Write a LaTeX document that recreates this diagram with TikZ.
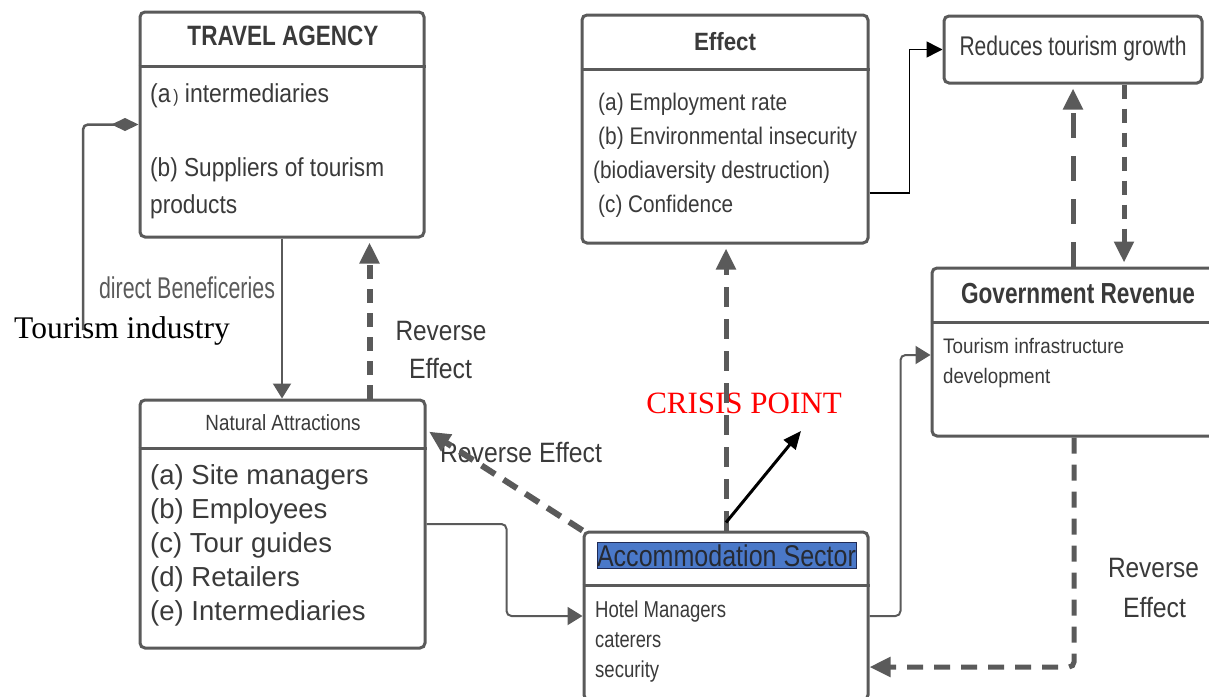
\documentclass[tikz,border=0pt]{standalone}
\usepackage{fontspec}
\setmainfont{Liberation Sans}
\newfontfamily\tnr{Liberation Serif}
\usepackage{graphicx}
\usetikzlibrary{arrows.meta}
\definecolor{lc}{HTML}{5A5A5A}
\definecolor{tc}{HTML}{3A3A3A}
\definecolor{hl}{HTML}{4A78C8}
\definecolor{hlb}{HTML}{1F2A55}
\definecolor{ast}{HTML}{262A33}
\newcommand{\fitw}[2]{\resizebox{#1}{\height}{#2}}
\newcommand{\fs}[1]{\fontsize{#1}{#1}\selectfont}
\begin{document}
\begin{tikzpicture}[x=1pt,y=-1pt,
  box/.style={draw=lc, line width=3pt, rounded corners=5pt, fill=white, inner sep=0pt},
  hdr/.style={draw=lc, line width=3pt},
  lbl/.style={inner sep=0pt, anchor=base west, text=tc},
  clbl/.style={inner sep=0pt, anchor=base, text=tc},
  thinarr/.style={draw=lc, line width=2pt, -{Triangle[length=15pt,width=18pt]}},
  dasharr/.style={draw=lc, line width=6pt, -{Triangle[length=21pt,width=19pt]}},
  blkarr/.style={draw=black, line width=3pt, -{Triangle[length=18pt,width=15pt]}},
  blkthin/.style={draw=black, line width=1.5pt, -{Triangle[length=16pt,width=16pt]}}
]
\useasboundingbox (0,0) rectangle (1209,696);
\clip (0,0) rectangle (1209,696);

% boxes
\node[box, minimum width=284pt, minimum height=225pt] (ta) at (282,124.5) {};
\draw[hdr] ([yshift=-56pt]ta.north west) -- ([yshift=-56pt]ta.north east);
\node[box, minimum width=286pt, minimum height=228pt] (eff) at (725,129) {};
\draw[hdr] ([yshift=-56pt]eff.north west) -- ([yshift=-56pt]eff.north east);
\node[box, minimum width=258pt, minimum height=67pt] (rtg) at (1073,49.5) {};
\node[box, minimum width=285pt, minimum height=248pt] (na) at (282.5,524) {};
\draw[hdr] ([yshift=-50pt]na.north west) -- ([yshift=-50pt]na.north east);
\node[box, minimum width=284pt, minimum height=168pt] (as) at (726,616) {};
\draw[hdr] ([yshift=-55pt]as.north west) -- ([yshift=-55pt]as.north east);
\node[box, minimum width=284pt, minimum height=168pt] (gr) at (1074,352) {};
\draw[hdr] ([yshift=-56pt]gr.north west) -- ([yshift=-56pt]gr.north east);

% texts in boxes
\node[clbl] (tat) at (283,45.5) {\fitw{191pt}{\bfseries\fs{28}TRAVEL AGENCY}};
\node[lbl] (ta1) at (150,102.5) {\fitw{179pt}{\fs{26}(a{\fs{18}\,)} intermediaries}};
\node[lbl] (ta2) at (150,176.5) {\fitw{234pt}{\fs{26}(b) Suppliers of tourism}};
\node[lbl] (ta3) at (150,213.5) {\fitw{87pt}{\fs{26}products}};

\node[clbl] (eft) at (725,50) {\fitw{62pt}{\bfseries\fs{25}Effect}};
\node[lbl] (ef1) at (598,110) {\fitw{189pt}{\fs{24}(a) Employment rate}};
\node[lbl] (ef2) at (598,144) {\fitw{259pt}{\fs{24}(b) Environmental insecurity}};
\node[lbl] (ef3) at (593,178) {\fitw{237pt}{\fs{24}(biodiaversity destruction)}};
\node[lbl] (ef4) at (598,212) {\fitw{135pt}{\fs{24}(c) Confidence}};

\node[clbl] (rtgt) at (1073,55) {\fitw{227pt}{\fs{27}Reduces tourism growth}};

\node[clbl] (nat) at (283,430) {\fitw{155pt}{\fs{22}Natural Attractions}};
\node[lbl] (na1) at (150,484) {\fs{27.5}(a) Site managers};
\node[lbl] (na2) at (150,518) {\fs{27.5}(b) Employees};
\node[lbl] (na3) at (150,552) {\fs{27.5}(c) Tour guides};
\node[lbl] (na4) at (150,586) {\fs{27.5}(d) Retailers};
\node[lbl] (na5) at (150,620) {\fs{27.5}(e) Intermediaries};

\node[fill=hl, draw=hlb, line width=1pt, minimum width=259pt, minimum height=26pt, inner sep=0pt] (ashl) at (726.5,555) {};
\node[clbl, text=ast] (astt) at (726.5,566) {\fitw{259pt}{\fs{30}Accommodation Sector}};
\node[lbl] (as1) at (595,617) {\fitw{131pt}{\fs{23}Hotel Managers}};
\node[lbl] (as2) at (595,647) {\fitw{66pt}{\fs{23}caterers}};
\node[lbl] (as3) at (595,677) {\fitw{64pt}{\fs{23}security}};

\node[clbl] (grt) at (1078,303) {\fitw{234pt}{\bfseries\fs{29}Government Revenue}};
\node[lbl] (gr1) at (943,353) {\fitw{181pt}{\fs{21}Tourism infrastructure}};
\node[lbl] (gr2) at (943,383) {\fitw{107pt}{\fs{21}development}};

% free labels
\node[lbl, text=black] (ti) at (14,338) {\tnr\fs{31.5}Tourism industry};
\node[clbl, text=lc] (db) at (187,298) {\fitw{176pt}{\fs{30}direct Beneficeries}};
\node[clbl] (rl1) at (441,340) {\fitw{91pt}{\fs{28}Reverse}};
\node[clbl] (rl2) at (440.5,378) {\fitw{63pt}{\fs{28}Effect}};
\node[clbl] (rm) at (521,462) {\fitw{162pt}{\fs{28}Reverse Effect}};
\node[clbl] (rr1) at (1153.5,577) {\fitw{91pt}{\fs{28}Reverse}};
\node[clbl] (rr2) at (1154.5,617) {\fitw{63pt}{\fs{28}Effect}};
\node[clbl, text=red] (cpt) at (744,413) {\tnr\fs{31}CRISIS POINT};

% connectors
\coordinate (tind) at (83,330);
\draw[draw=lc, line width=2.5pt, rounded corners=5pt, {Diamond[length=27pt,width=13pt]}-] (ta.west) -| (tind);
\draw[thinarr] (ta.south) -- (ta.south |- na.north);
\draw[dasharr, dash pattern=on 14pt off 10pt, shorten >=4pt] ([xshift=87pt]na.north) -- ([xshift=87.5pt]ta.south);
\draw[dasharr, dash pattern=on 16pt off 10pt, shorten >=3pt] (as.north west) -- ([yshift=94pt]na.east);
\draw[thinarr, rounded corners=5pt] (na.east) -- ++(80,0) |- (as.west);
\draw[dasharr, line width=5pt, dash pattern=on 20pt off 12pt, shorten >=4pt] (as.north) -- (as.north |- eff.south);
\coordinate (cp) at (801,431);
\draw[blkarr] ([yshift=8pt]as.north) -- (cp);
\draw[blkthin] ([yshift=-64pt]eff.east) -- ++(40,0) |- (rtg.west);
\draw[dasharr, line width=5pt, dash pattern=on 25pt off 18pt, shorten >=4pt] (gr.north -| rtg.south) -- (rtg.south);
\draw[dasharr, line width=5pt, dash pattern=on 14pt off 10pt, shorten >=4pt] ([xshift=51pt]rtg.south) -- ([xshift=51pt]rtg.south |- gr.north);
\draw[thinarr, rounded corners=5pt] (as.east) -- ++(31,0) |- ([yshift=-3pt]gr.west);
\draw[dasharr, line width=5pt, dash pattern=on 16pt off 11pt, rounded corners=5pt] (gr.south) |- ([yshift=-51pt]as.east);
\end{tikzpicture}
\end{document}
